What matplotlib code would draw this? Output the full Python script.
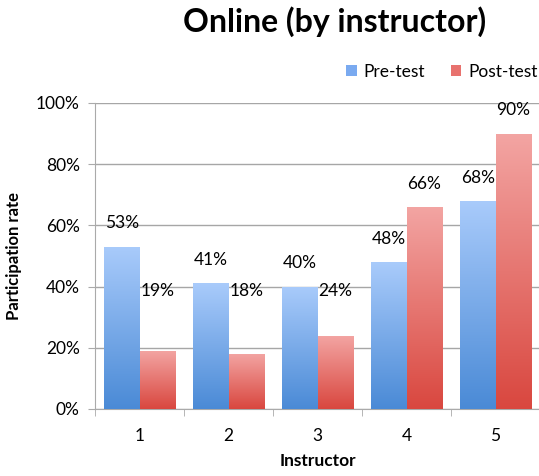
import numpy as np
import matplotlib
matplotlib.use("Agg")
import matplotlib.pyplot as plt
from matplotlib.colors import LinearSegmentedColormap
from matplotlib.patches import Patch

plt.rcParams['font.family'] = ['Lato', 'DejaVu Sans']

instructors = ['1', '2', '3', '4', '5']
pre_test = [53, 41, 40, 48, 68]
post_test = [19, 18, 24, 66, 90]

fig = plt.figure(figsize=(5.39, 4.76), dpi=100)
ax = fig.add_axes([0.1763, 0.1408, 0.8256, 0.643])

x = np.arange(len(instructors))
w = 0.4
blue_cmap = LinearSegmentedColormap.from_list('b', ['#4a8ad6', '#a9cbfb'])
red_cmap = LinearSegmentedColormap.from_list('r', ['#d9473f', '#f3a5a3'])

def grad_bars(xs, vals, cmap):
    bars = ax.bar(xs, vals, width=w, color='none', edgecolor='none', zorder=3)
    for b in bars:
        x0, y0 = b.get_x(), b.get_y()
        x1, y1 = x0 + b.get_width(), y0 + b.get_height()
        grad = np.linspace(0, 1, 256).reshape(-1, 1)
        im = ax.imshow(grad, cmap=cmap, aspect='auto', origin='lower',
                       extent=[x0, x1, y0, y1], zorder=3)
        im.set_clip_path(b)
    return bars

grad_bars(x - w / 2, pre_test, blue_cmap)
grad_bars(x + w / 2, post_test, red_cmap)

# value labels (the two smallest post-test labels sit higher, as in the original)
for xi, v in zip(x - w / 2, pre_test):
    ax.text(xi, v + 5, f'{v}%', ha='center', va='bottom', fontsize=12.5, zorder=4)
for xi, v in zip(x + w / 2, post_test):
    ax.text(xi, max(v + 5, 36), f'{v}%', ha='center', va='bottom', fontsize=12.5, zorder=4)

ax.set_xlim(-0.5, 4.5)
ax.set_ylim(0, 100)
ax.set_yticks(np.arange(0, 101, 20))
ax.set_yticklabels([f'{t}%' for t in range(0, 101, 20)], fontsize=12.5)
ax.set_xticks(x)
ax.set_xticklabels(instructors, fontsize=12.5)
ax.set_xticks(np.arange(-0.5, 5, 1), minor=True)
ax.tick_params(axis='x', which='major', length=0, pad=14)
ax.tick_params(axis='x', which='minor', length=5, color='#aaaaaa', direction='out')
ax.tick_params(axis='y', length=5, color='#aaaaaa', direction='out', pad=6)

ax.yaxis.grid(True, color='#a6a6a6', linewidth=1, zorder=0)
ax.set_axisbelow(True)
for s in ['top', 'right']:
    ax.spines[s].set_visible(False)
for s in ['left', 'bottom']:
    ax.spines[s].set_color('#aaaaaa')

ax.set_xlabel('Instructor', fontsize=12.5, fontweight='bold', labelpad=6)
ax.set_ylabel('Participation rate', fontsize=12, fontweight='bold', labelpad=10)

fig.text(0.6215, 0.954, 'Online (by instructor)', ha='center', va='center',
         fontsize=23, fontweight='bold')

handles = [Patch(facecolor='#7aaaf0', label='Pre-test'),
           Patch(facecolor='#e8726e', label='Post-test')]
fig.legend(handles=handles, loc='center', bbox_to_anchor=(0.82, 0.849), ncol=2,
           frameon=False, fontsize=12.5, handlelength=0.6, handleheight=0.6,
           columnspacing=1.5, handletextpad=0.4)

fig.savefig('out.png', dpi=100)
